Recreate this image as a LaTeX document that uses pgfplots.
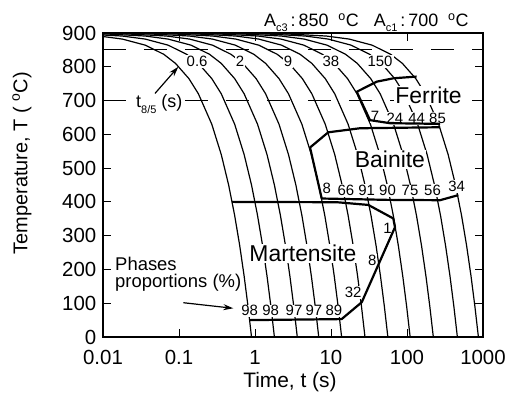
\documentclass[border=0pt]{standalone}
\usepackage{pgfplots}
\usepackage{pgfplotstable}
\pgfplotsset{compat=1.18}
\usepackage{fontspec}
\setmainfont{Liberation Sans}
\usetikzlibrary{arrows.meta}

% Continuous cooling curves: time (s) to reach T for each cooling rate
\pgfplotstableread{
T        c1        c2        c3        c4        c5        c6       c7       c8       c9       c10      c11
899.991  0.000009  0.000018  0.000036  0.000069  0.000138  0.00028  0.00056  0.0011   0.00222  0.0046   0.0087
899.91   0.00009   0.00018   0.00036   0.00069   0.00138   0.0028   0.0056   0.011    0.0222   0.046    0.087
899.73   0.00027   0.00054   0.00108   0.00207   0.00414   0.0084   0.0168   0.033    0.0666   0.138    0.261
899.1    0.0009    0.0018    0.0036    0.0069    0.0138    0.028    0.056    0.11     0.222    0.46     0.87
897.3    0.0027    0.0054    0.0108    0.0207    0.0414    0.084    0.168    0.33     0.666    1.38     2.61
891      0.009     0.018     0.036     0.069     0.138     0.28     0.56     1.1      2.22     4.6      8.7
882      0.018     0.036     0.072     0.138     0.276     0.56     1.12     2.2      4.44     9.2      17.4
864      0.036     0.072     0.144     0.276     0.552     1.12     2.24     4.4      8.88     18.4     34.8
837      0.063     0.126     0.252     0.483     0.966     1.96     3.92     7.7      15.54    32.2     60.9
810      0.09      0.18      0.36      0.69      1.38      2.8      5.6      11       22.2     46       87
765      0.135     0.27      0.54      1.035     2.07      4.2      8.4      16.5     33.3     69       130.5
720      0.18      0.36      0.72      1.38      2.76      5.6      11.2     22       44.4     92       174
630      0.27      0.54      1.08      2.07      4.14      8.4      16.8     33       66.6     138      261
540      0.36      0.72      1.44      2.76      5.52      11.2     22.4     44       88.8     184      348
450      0.45      0.9       1.8       3.45      6.9       14       28       55       111      230      435
360      0.54      1.08      2.16      4.14      8.28      16.8     33.6     66       133.2    276      522
270      0.63      1.26      2.52      4.83      9.66      19.6     39.2     77       155.4    322      609
180      0.72      1.44      2.88      5.52      11.04     22.4     44.8     88       177.6    368      696
90       0.81      1.62      3.24      6.21      12.42     25.2     50.4     99       199.8    414      783
0        0.9       1.8       3.6       6.9       13.8      28       56       110      222      460      870
}\cooling

\newcommand\numf{\fontsize{15}{15}\selectfont}
\newcommand\phasef{\fontsize{23}{23}\selectfont}

\begin{document}
\begin{tikzpicture}
\begin{axis}[
  at={(0,0)}, anchor=south west,
  scale only axis, width=380bp, height=304bp,
  xmode=log, xmin=0.01, xmax=1000, ymin=0, ymax=900,
  xtick={0.01,0.1,1,10,100,1000},
  xticklabels={0.01,0.1,1,10,100,1000},
  ytick={0,100,...,900},
  xminorticks=false,
  tick align=inside, major tick length=8bp,
  tick style={line width=0.9bp, black},
  axis line style={line width=1.3bp},
  /pgf/number format/assume math mode=true,
  ticklabel style={font=\fontsize{20.5}{20.5}\selectfont, inner sep=1bp},
  xticklabel style={yshift=-12bp},
  yticklabel style={xshift=-5.5bp},
  xlabel={Time, t (s)},
  ylabel={Temperature, T ( \textsuperscript{o}C)},
  xlabel style={font=\fontsize{21}{21}\selectfont, at={(axis description cs:0.492,-0.147)}, anchor=center},
  ylabel style={font=\fontsize{20}{20}\selectfont, at={(axis description cs:-0.213,0.572)}, anchor=center, rotate=0},
  clip mode=individual,
  curve/.style={black, line width=1.2bp},
  bound/.style={black, line width=2.2bp, line join=round},
]
% cooling curves
\pgfplotsinvokeforeach{1,...,11}{
  \addplot[curve] table[x=c#1, y=T]{\cooling};
}
% critical temperatures Ac3 and Ac1
\addplot[black, line width=1bp, dash pattern=on 23bp off 18bp] coordinates {(0.01,850) (1000,850)};
\addplot[black, line width=1bp, dash pattern=on 23bp off 18bp] coordinates {(0.01,700) (1000,700)};

% t8/5 values
\begin{scope}[every node/.style={fill=white, inner sep=1bp, font=\numf}]
\node at (axis cs:0.173,815) {0.6};
\node at (axis cs:0.636,815) {2};
\node at (axis cs:2.72,815) {9};
\node at (axis cs:10,815) {38};
\node at (axis cs:44.2,815) {150};
% ferrite proportions
\node at (axis cs:37.9,652) {7};
\node at (axis cs:69.5,647) {24};
\node at (axis cs:134,647) {44};
\node at (axis cs:252,647) {85};
% bainite proportions
\node at (axis cs:8.78,441) {8};
\node at (axis cs:15.7,433) {66};
\node at (axis cs:29.5,433) {91};
\node at (axis cs:55.4,433) {90};
\node at (axis cs:109.6,433) {75};
\node at (axis cs:216.6,433) {56};
\node at (axis cs:450.6,446) {34};
% martensite proportions
\node at (axis cs:0.851,77.5) {98};
\node at (axis cs:1.61,77.5) {98};
\node at (axis cs:3.26,77.5) {97};
\node at (axis cs:5.97,77.5) {97};
\node at (axis cs:10.9,77.5) {89};
\node at (axis cs:19.6,131.7) {32};
\node at (axis cs:34.9,228) {8};
\node at (axis cs:55.4,322.7) {1};
\end{scope}

% phase names
\begin{scope}[every node/.style={fill=white, inner sep=1bp, font=\phasef}]
\node at (axis cs:4.27,248) {Martensite};
\node at (axis cs:59.7,526) {Bainite};
\node at (axis cs:192,716) {Ferrite};
\end{scope}

% ferrite start and finish
\addplot[bound] coordinates {(134,771) (66.5,766) (40,756) (21.8,726) (32.6,642) (59.7,633) (272,631)};
% bainite start
\addplot[bound] coordinates {(272,621) (24,618) (9.2,606) (5.3,561) (7.55,410)};
% bainite finish
\addplot[bound] coordinates {(7.55,410) (55,406) (272,405) (473,420)};
% martensite
\addplot[bound] coordinates {(0.5,400) (12,399) (31,391) (66,351) (69.5,325) (25.4,103) (13.8,53) (0.86,50)};

% annotations
\node[fill=white, inner sep=1bp, font=\fontsize{18}{18}\selectfont] at (axis cs:0.055,690)
  {t\raisebox{-6bp}{\fontsize{11}{11}\selectfont 8/5} (s)};
\draw[line width=1.2bp, -{Stealth[length=10bp, width=6bp]}] (axis cs:0.0483,721) -- (axis cs:0.098,800);
\node[anchor=base west, inner sep=0pt, font=\fontsize{18.5}{18.5}\selectfont] at (axis cs:0.0144,196.3) {Phases};
\node[anchor=base west, inner sep=0pt, font=\fontsize{18.5}{18.5}\selectfont] at (axis cs:0.0144,146) {proportions (\%)};
\draw[line width=1.2bp, -{Stealth[length=10bp, width=6bp]}] (axis cs:0.114,101.5) -- (axis cs:0.518,85);

\node[anchor=base west, inner sep=0pt, font=\fontsize{18}{18}\selectfont] at (axis cs:1.31,918.6)
  {A\raisebox{-5bp}{\fontsize{11}{11}\selectfont c3}\,:\,850\ \ \textsuperscript{o}C\ \ \ A\raisebox{-5bp}{\fontsize{11}{11}\selectfont c1}\,:\,700\ \ \textsuperscript{o}C};
\end{axis}
\pgfresetboundingbox
\path (-103bp,-59bp) rectangle (408bp,337bp);
\end{tikzpicture}
\end{document}
